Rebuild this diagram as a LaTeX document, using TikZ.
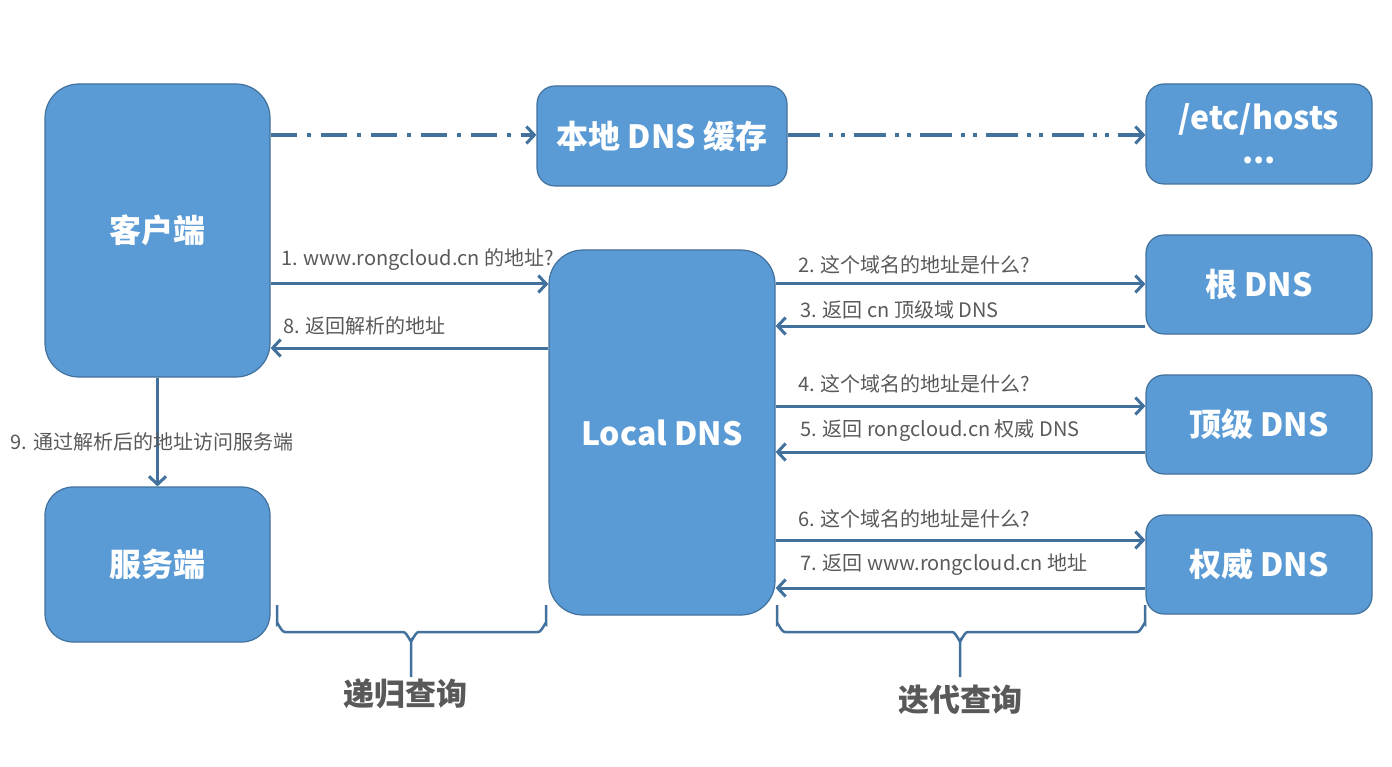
\documentclass[tikz,border=0pt]{standalone}
\usepackage{fontspec}
\setmainfont{Noto Sans CJK SC}
\usetikzlibrary{arrows.meta}
\definecolor{boxfill}{HTML}{5B9BD5}
\definecolor{boxline}{HTML}{41719C}
\definecolor{arrcol}{HTML}{41719C}
\definecolor{labgray}{HTML}{595959}
\tikzset{
  box/.style={draw=boxline, line width=1.2pt, fill=boxfill, rounded corners=18pt,
    text=white, font=\fontsize{32}{38}\selectfont\bfseries, align=center, inner sep=0pt},
  bigbox/.style={box, rounded corners=34pt},
  conn/.style={draw=arrcol, line width=3pt, -{Straight Barb[length=8pt,width=17pt,line width=3pt]}},
  dashconn/.style={conn, line width=3.5pt},
  lab/.style={text=labgray, font=\fontsize{20}{24}\selectfont, inner sep=0pt, anchor=west},
  bigLab/.style={text=labgray, font=\fontsize{31}{36}\selectfont\bfseries, inner sep=0pt},
  brace/.style={draw=arrcol, line width=2.5pt}
}
\begin{document}
\begin{tikzpicture}[x=1pt,y=-1pt]
\useasboundingbox (0,0) rectangle (1392,767);
% nodes
\node[bigbox, minimum width=225pt, minimum height=293pt] (client) at (157.5,230.5) {客户端};
\node[bigbox, minimum width=225pt, minimum height=155pt, rounded corners=28pt] (server) at (157.5,564.5) {服务端};
\node[box, minimum width=250pt, minimum height=100pt] (cache) at (662,136) {本地 DNS 缓存};
\node[box, minimum width=226pt, minimum height=100pt] (hosts) at (1259,134) {/etc/hosts\\[-4pt]...};
\node[box, minimum width=226pt, minimum height=99pt] (root) at (1259,284.5) {根 DNS};
\node[box, minimum width=226pt, minimum height=99pt] (tld) at (1259,424.5) {顶级 DNS};
\node[box, minimum width=226pt, minimum height=99pt] (auth) at (1259,564.5) {权威 DNS};
\node[bigbox, minimum width=226pt, minimum height=365pt] (local) at (662,432.5) {Local DNS};
% helper coordinates for arrow heights
\coordinate (r1) at (0,284);
\coordinate (r8) at (0,348);
\coordinate (r3) at (0,326);
\coordinate (r4) at (0,406);
\coordinate (r5) at (0,452);
\coordinate (r6) at (0,540);
\coordinate (r7) at (0,588);
\coordinate (rt) at (0,135);
% dash-dot arrows
\draw[dashconn, dash pattern=on 26pt off 10pt on 4pt off 10pt] (client.east |- rt) -- (cache.west |- rt);
\draw[dashconn, dash pattern=on 32pt off 9pt on 4pt off 8pt on 4pt off 9pt] (cache.east |- rt) -- (hosts.west |- rt);
% solid arrows
\draw[conn] (client.east |- r1) -- (local.west |- r1);
\draw[conn] (local.west |- r8) -- (client.east |- r8);
\draw[conn] (local.east |- r1) -- (root.west |- r1);
\draw[conn] (root.west |- r3) -- (local.east |- r3);
\draw[conn] (local.east |- r4) -- (tld.west |- r4);
\draw[conn] (tld.west |- r5) -- (local.east |- r5);
\draw[conn] (local.east |- r6) -- (auth.west |- r6);
\draw[conn] (auth.west |- r7) -- (local.east |- r7);
\draw[conn] (client.south) -- (server.north);
% labels
\node[lab] (l1) at (281,260) {1. www.rongcloud.cn 的地址?};
\node[lab] (l8) at (283,326) {8. 返回解析的地址};
\node[lab] (l2) at (798,265) {2. 这个域名的地址是什么?};
\node[lab] (l3) at (800,310) {3. 返回 cn 顶级域 DNS};
\node[lab] (l4) at (798,384) {4. 这个域名的地址是什么?};
\node[lab] (l5) at (800,431) {5. 返回 rongcloud.cn 权威 DNS};
\node[lab] (l6) at (798,519) {6. 这个域名的地址是什么?};
\node[lab] (l7) at (800,565) {7. 返回 www.rongcloud.cn 地址};
\node[lab, anchor=center] (l9) at (152,442) {9. 通过解析后的地址访问服务端};
% braces
\draw[brace] (277,605) -- (277,624) to[out=90,in=180] (285,632) -- (403,632) to[out=0,in=-90] (411,640) -- (411,677);
\draw[brace] (411,640) to[out=-90,in=180] (419,632) -- (538,632) to[out=0,in=90] (546,624) -- (546,605);
\draw[brace] (777,605) -- (777,624) to[out=90,in=180] (785,632) -- (952,632) to[out=0,in=-90] (960,640) -- (960,677);
\draw[brace] (960,640) to[out=-90,in=180] (968,632) -- (1137,632) to[out=0,in=90] (1145,624) -- (1145,605);
\node[bigLab] (rec) at (405,694) {递归查询};
\node[bigLab] (itr) at (960,700) {迭代查询};
\end{tikzpicture}
\end{document}
